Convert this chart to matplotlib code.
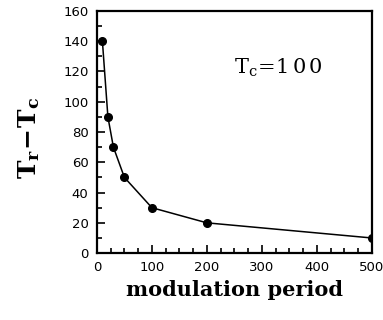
import matplotlib
matplotlib.use('Agg')
import matplotlib.pyplot as plt
from matplotlib.ticker import MultipleLocator

# data
period = [10, 20, 30, 50, 100, 200, 500]
tr_minus_tc = [140, 90, 70, 50, 30, 20, 10]

plt.rcParams['mathtext.fontset'] = 'dejavuserif'

fig = plt.figure(figsize=(3.83, 3.2), dpi=100)
ax = fig.add_axes([0.253, 0.209, 0.718, 0.757])

ax.plot(period, tr_minus_tc, 'k-', marker='o', markersize=5.5, linewidth=1.1)

ax.set_xlim(0, 500)
ax.set_ylim(0, 160)
ax.xaxis.set_major_locator(MultipleLocator(100))
ax.xaxis.set_minor_locator(MultipleLocator(25))
ax.yaxis.set_major_locator(MultipleLocator(20))
ax.yaxis.set_minor_locator(MultipleLocator(10))
ax.tick_params(which='both', direction='in', width=1.2, labelsize=9.5, pad=6)
ax.tick_params(which='major', length=6)
ax.tick_params(which='minor', length=3.5)
for s in ax.spines.values():
    s.set_linewidth(1.6)

ax.set_xlabel('modulation period', family='DejaVu Serif', fontweight='bold', fontsize=15)
ax.set_ylabel(r'$\mathbf{T_r\!-\!T_c}$', fontsize=18)
ax.yaxis.set_label_coords(-0.2, 0.475)
ax.text(0.5, 0.74, r'$\mathrm{T_c\!=\!1\,0\,0}$', transform=ax.transAxes, fontsize=15)

fig.savefig('out.png', dpi=100)
